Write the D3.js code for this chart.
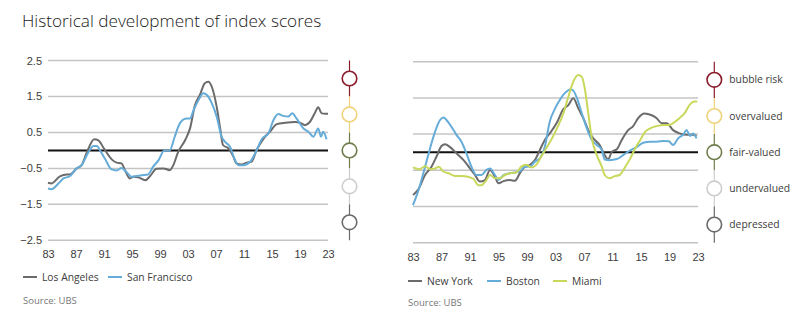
<!DOCTYPE html>
<html>
<head>
<meta charset="utf-8">
<script src="https://cdn.jsdelivr.net/npm/d3@7"></script>
<style>
  html, body { margin: 0; padding: 0; background: #fff; }
  svg { display: block; font-family: "Open Sans", "Noto Sans", sans-serif; }
</style>
</head>
<body>
<svg id="chart" width="800" height="330"></svg>
<script>
// ---------- data ----------
const title = "Historical development of index scores";
const yearTicks = [1983, 1987, 1991, 1995, 1999, 2003, 2007, 2011, 2015, 2019, 2023];
const yearTickLabels = ["83", "87", "91", "95", "99", "03", "07", "11", "15", "19", "23"];
const gridValues = [2.5, 1.5, 0.5, -0.5, -1.5, -2.5];
const statusNames = ["bubble risk", "overvalued", "fair-valued", "undervalued", "depressed"];
const statusValues = [2, 1, 0, -1, -2];
const statusColors = ["#8a1c2b", "#f0d27c", "#6f7d4d", "#cdcdcd", "#6a6a6a"];

const losAngeles = [[1983,-0.90],[1983.5,-0.92],[1984.7,-0.72],[1985.7,-0.67],[1986.1,-0.67],[1987.1,-0.50],[1987.8,-0.41],[1988.5,-0.08],[1989.6,0.31],[1990.2,0.28],[1991.0,0.05],[1992.1,-0.25],[1992.8,-0.34],[1993.5,-0.36],[1994,-0.55],[1994.7,-0.78],[1995.2,-0.73],[1995.9,-0.75],[1996.9,-0.83],[1997.6,-0.71],[1998.5,-0.51],[1999.5,-0.50],[2000.4,-0.55],[2000.9,-0.41],[2001.6,-0.04],[2002.6,0.29],[2003.3,0.62],[2004,1.26],[2004.7,1.54],[2005.4,1.87],[2005.9,1.91],[2006.4,1.77],[2007.1,1.21],[2007.6,0.61],[2008.0,0.15],[2008.8,0.05],[2009.5,-0.18],[2009.9,-0.36],[2010.7,-0.39],[2011.4,-0.34],[2012.1,-0.31],[2012.8,0.01],[2013.8,0.33],[2014.7,0.52],[2015.7,0.73],[2016.9,0.77],[2018.3,0.79],[2019,0.77],[2019.7,0.70],[2020.4,0.79],[2021.1,1.03],[2021.6,1.20],[2022.1,1.03],[2022.6,1.02],[2023,1.02]];
const sanFrancisco = [[1983,-1.06],[1983.5,-1.08],[1984.5,-0.92],[1985.2,-0.78],[1986.1,-0.72],[1987.1,-0.50],[1987.8,-0.41],[1988.8,-0.04],[1989.5,0.12],[1990,0.12],[1990.4,0.01],[1991.1,-0.22],[1992.1,-0.53],[1992.8,-0.56],[1993.5,-0.49],[1994.2,-0.60],[1994.9,-0.73],[1995.4,-0.72],[1996.4,-0.69],[1997.3,-0.67],[1998,-0.46],[1998.8,-0.27],[1999.6,0.0],[2000.4,0.0],[2001.1,0.38],[2001.7,0.70],[2002.6,0.88],[2003.3,0.89],[2003.8,1.12],[2004.5,1.40],[2005.2,1.59],[2005.7,1.54],[2006.4,1.31],[2007.1,0.94],[2007.8,0.38],[2008.3,0.24],[2009,0.10],[2009.7,-0.26],[2010.2,-0.41],[2010.9,-0.41],[2011.9,-0.31],[2012.6,-0.08],[2013.6,0.33],[2014.5,0.48],[2015.2,0.84],[2015.9,1.01],[2016.6,0.96],[2017.3,0.94],[2017.9,1.03],[2018.5,0.89],[2019.5,0.61],[2020.2,0.52],[2020.9,0.38],[2021.6,0.61],[2022,0.38],[2022.3,0.52],[2022.8,0.31]];
const newYork = [[1983,-1.18],[1983.7,-1.04],[1984.7,-0.63],[1985.6,-0.40],[1986.3,-0.12],[1987.0,0.17],[1987.5,0.22],[1988.2,0.14],[1989.1,-0.03],[1990.1,-0.22],[1991,-0.45],[1991.7,-0.63],[1992.4,-0.81],[1993.1,-0.77],[1993.8,-0.49],[1994.5,-0.68],[1995,-0.86],[1995.7,-0.80],[1996.6,-0.77],[1997.3,-0.79],[1998,-0.58],[1998.7,-0.40],[1999.4,-0.35],[2000.1,-0.22],[2000.8,0.06],[2001.5,0.34],[2002.2,0.52],[2003.2,0.82],[2004.1,1.19],[2004.8,1.30],[2005.5,1.49],[2006.2,1.21],[2006.9,0.94],[2007.6,0.61],[2008.3,0.38],[2009.2,0.20],[2009.9,-0.08],[2010.4,-0.20],[2010.9,0.01],[2011.6,0.08],[2012.3,0.34],[2013.2,0.61],[2013.9,0.72],[2014.6,0.94],[2015.5,1.07],[2016.5,1.02],[2017.2,0.94],[2017.9,0.80],[2018.6,0.80],[2019.5,0.61],[2020.4,0.52],[2021.4,0.48],[2022.3,0.48],[2022.8,0.45]];
const boston = [[1983,-1.46],[1983.7,-1.09],[1984.7,-0.40],[1985.4,0.11],[1986.1,0.57],[1986.8,0.89],[1987.3,0.96],[1987.7,0.89],[1988.4,0.70],[1989.1,0.48],[1989.8,0.29],[1990.5,-0.03],[1991.2,-0.40],[1991.9,-0.63],[1992.6,-0.63],[1993.3,-0.49],[1993.8,-0.45],[1994.5,-0.63],[1995,-0.77],[1995.7,-0.63],[1996.6,-0.58],[1997.3,-0.56],[1998,-0.53],[1998.7,-0.40],[1999.4,-0.40],[2000.1,-0.26],[2000.8,-0.17],[2001.5,0.15],[2002.2,0.85],[2002.9,1.19],[2003.6,1.44],[2004.5,1.67],[2005.1,1.74],[2005.5,1.70],[2006,1.50],[2006.7,1.07],[2007.4,0.66],[2008.1,0.34],[2008.8,0.20],[2009.5,0.06],[2009.9,-0.20],[2010.6,-0.22],[2011.6,-0.19],[2012.5,-0.08],[2013.4,0.04],[2014.4,0.14],[2015.3,0.26],[2016.3,0.29],[2017.2,0.29],[2018.2,0.31],[2018.9,0.30],[2019.5,0.20],[2020.2,0.38],[2020.9,0.48],[2021.4,0.61],[2021.9,0.45],[2022.3,0.52],[2022.8,0.38]];
const miami = [[1983,-0.42],[1983.9,-0.47],[1984.7,-0.39],[1985.4,-0.47],[1986.1,-0.45],[1986.6,-0.40],[1987.3,-0.54],[1988,-0.58],[1988.9,-0.66],[1989.8,-0.66],[1990.7,-0.68],[1991.5,-0.74],[1992.2,-0.91],[1992.6,-0.91],[1993.3,-0.77],[1993.8,-0.63],[1994.5,-0.72],[1995.2,-0.72],[1995.9,-0.63],[1996.6,-0.58],[1997.5,-0.56],[1998.2,-0.40],[1998.9,-0.35],[1999.6,-0.42],[2000.3,-0.35],[2001,-0.12],[2001.7,0.11],[2002.4,0.34],[2003.2,0.66],[2004.1,1.07],[2004.8,1.53],[2005.5,1.95],[2006.2,2.13],[2006.7,2.08],[2007.1,1.77],[2007.6,1.07],[2008.1,0.38],[2008.8,-0.08],[2009.5,-0.40],[2009.9,-0.63],[2010.6,-0.72],[2011.3,-0.66],[2012,-0.63],[2012.8,-0.40],[2013.5,-0.17],[2014.2,0.11],[2014.9,0.34],[2015.6,0.57],[2016.3,0.66],[2017.2,0.72],[2018.2,0.75],[2018.9,0.75],[2019.5,0.80],[2020.4,0.94],[2021.1,1.07],[2021.8,1.30],[2022.5,1.40],[2022.9,1.40]];

const leftSeries = [
  { name: "Los Angeles", data: losAngeles, color: "#6b6b6b" },
  { name: "San Francisco", data: sanFrancisco, color: "#66acd8" }
];
const rightSeries = [
  { name: "New York", data: newYork, color: "#6b6b6b" },
  { name: "Boston", data: boston, color: "#66acd8" },
  { name: "Miami", data: miami, color: "#c9d85a" }
];

// ---------- drawing ----------
const svg = d3.select("#chart");
const textColor = "#3c3c3c";

svg.append("text")
  .attr("x", 22).attr("y", 27)
  .attr("font-size", 17.2).attr("font-weight", 300)
  .attr("fill", "#222")
  .text(title);

function panel(cfg) {
  const x = d3.scaleLinear().domain([1983, 2023]).range(cfg.xRange);
  const y = d3.scaleLinear().domain([-2.5, 2.5]).range(cfg.yRange);
  const g = svg.append("g");

  // gridlines
  g.append("g").selectAll("line").data(gridValues).join("line")
    .attr("x1", x(1983)).attr("x2", x(2023))
    .attr("y1", d => y(d)).attr("y2", d => y(d))
    .attr("stroke", "#c4c4c4").attr("stroke-width", 1.5);

  // zero line
  g.append("line")
    .attr("x1", x(1983)).attr("x2", x(2023))
    .attr("y1", y(0)).attr("y2", y(0))
    .attr("stroke", "#111").attr("stroke-width", 2);

  // y axis labels
  if (cfg.yLabels) {
    const ya = g.append("g").attr("transform", `translate(${x(1983)},0)`)
      .call(d3.axisLeft(y).tickValues(gridValues).tickSize(0).tickPadding(6).tickFormat(d3.format(".1f")));
    ya.select(".domain").remove();
    ya.selectAll("text").attr("font-size", 11).attr("fill", textColor).attr("font-family", null);
  }

  // x axis
  const xa = g.append("g").attr("transform", `translate(0,${y(-2.5)})`)
    .call(d3.axisBottom(x).tickValues(yearTicks).tickSize(0).tickPadding(cfg.xPad)
      .tickFormat((d, i) => yearTickLabels[i]));
  xa.select(".domain").remove();
  xa.selectAll("text").attr("font-size", 11).attr("fill", textColor).attr("font-family", null);

  // lines
  const line = d3.line().x(d => x(d[0])).y(d => y(d[1])).curve(d3.curveMonotoneX);
  g.append("g").selectAll("path").data(cfg.series).join("path")
    .attr("d", s => line(s.data))
    .attr("fill", "none").attr("stroke", s => s.color)
    .attr("stroke-width", 2).attr("stroke-linejoin", "round");

  // status indicator
  const sg = g.append("g");
  sg.selectAll("line").data(statusValues).join("line")
    .attr("x1", cfg.statusX).attr("x2", cfg.statusX)
    .attr("y1", d => y(d + 0.5)).attr("y2", d => y(d - 0.5))
    .attr("stroke", (d, i) => statusColors[i]).attr("stroke-width", 1.2);
  sg.selectAll("circle").data(statusValues).join("circle")
    .attr("cx", cfg.statusX).attr("cy", d => y(d)).attr("r", 7.3)
    .attr("fill", "#fff").attr("stroke", (d, i) => statusColors[i]).attr("stroke-width", 1.6);
  if (cfg.statusLabels) {
    sg.selectAll("text").data(statusValues).join("text")
      .attr("x", cfg.statusX + 15).attr("y", d => y(d)).attr("dy", "0.35em")
      .attr("font-size", 10.3).attr("fill", textColor)
      .text((d, i) => statusNames[i]);
  }

  // legend
  const lg = g.append("g").attr("transform", `translate(0,${cfg.legendY})`);
  cfg.series.forEach((s, i) => {
    const lx = cfg.legendX[i];
    lg.append("line").attr("x1", lx).attr("x2", lx + 14).attr("y1", 0).attr("y2", 0)
      .attr("stroke", s.color).attr("stroke-width", 2);
    lg.append("text").attr("x", lx + 19).attr("y", 0).attr("dy", "0.35em")
      .attr("font-size", 10.3).attr("fill", textColor).text(s.name);
  });

  // source
  g.append("text").attr("x", cfg.sourceX).attr("y", cfg.sourceY).attr("dy", "0.35em")
    .attr("font-size", 9.5).attr("fill", "#777").text("Source: UBS");
}

panel({
  xRange: [48, 328], yRange: [240.3, 60.5], yLabels: true, xPad: 10,
  series: leftSeries, statusX: 349.5, statusLabels: false,
  legendY: 277, legendX: [23, 108], sourceX: 23, sourceY: 300.7
});
panel({
  xRange: [413, 698], yRange: [242.7, 61.7], yLabels: false, xPad: 11,
  series: rightSeries, statusX: 714.3, statusLabels: true,
  legendY: 281, legendX: [408, 487, 553], sourceX: 408, sourceY: 303
});
</script>
</body>
</html>
